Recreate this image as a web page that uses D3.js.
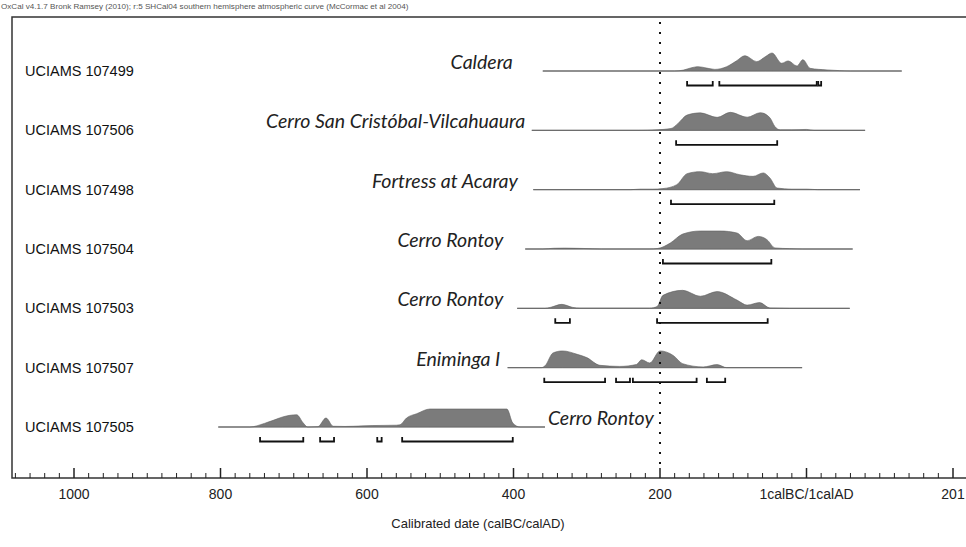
<!DOCTYPE html>
<html>
<head>
<meta charset="utf-8">
<script src="https://cdn.jsdelivr.net/npm/d3@7"></script>
<style>
  html, body { margin: 0; padding: 0; background: #fff; }
  svg { display: block; }
</style>
</head>
<body>
<svg class="chart-svg" width="966" height="547"></svg>
<script>
const width = 966;
const height = 547;

// years: BC negative, AD positive
const samples = ["UCIAMS 107499", "UCIAMS 107506", "UCIAMS 107498", "UCIAMS 107504", "UCIAMS 107503", "UCIAMS 107507", "UCIAMS 107505"];
const sites = ["Caldera", "Cerro San Cristóbal-Vilcahuaura", "Fortress at Acaray", "Cerro Rontoy", "Cerro Rontoy", "Eniminga I", "Cerro Rontoy"];
const siteLabelAt = [-401, -384, -394, -414, -414, -418, -353];
const rangeStart = [-360, -375, -373, -384, -395, -408, -803];
const rangeEnd = [130, 80, 73, 63, 59, -6, -357];

// relative probability, [year, density]
const dist107499 = [[-360, 0], [-180, 0], [-168, 0.05], [-158, 0.17], [-148, 0.24], [-136, 0.16], [-125, 0.09], [-109, 0.24], [-96, 0.55], [-84, 0.85], [-68, 0.52], [-56, 0.8], [-47, 1.0], [-34, 0.43], [-25, 0.56], [-13, 0.28], [-5, 0.63], [5, 0.15], [28, 0.06], [45, 0.02], [60, 0], [130, 0]];
const dist107506 = [[-375, 0], [-230, 0], [-204, 0.03], [-185, 0.1], [-175, 0.4], [-163, 0.85], [-145, 0.97], [-122, 0.72], [-104, 1.0], [-81, 0.73], [-63, 0.98], [-50, 0.7], [-43, 0.2], [-36, 0.03], [-20, 0.03], [0, 0.05], [10, 0], [80, 0]];
const dist107498 = [[-373, 0], [-240, 0], [-227, 0.03], [-210, 0.03], [-196, 0.06], [-177, 0.28], [-163, 0.89], [-145, 1.0], [-128, 0.89], [-109, 1.0], [-91, 0.83], [-73, 0.74], [-59, 0.93], [-50, 0.65], [-40, 0.09], [-20, 0.03], [1, 0.03], [15, 0], [73, 0]];
const dist107504 = [[-384, 0], [-360, 0], [-345, 0.04], [-330, 0.05], [-305, 0.03], [-280, 0], [-215, 0], [-203, 0.03], [-186, 0.33], [-169, 0.83], [-145, 1.0], [-118, 1.0], [-95, 0.89], [-81, 0.46], [-66, 0.7], [-54, 0.52], [-43, 0.06], [-23, 0.02], [-5, 0], [63, 0]];
const dist107503 = [[-395, 0], [-357, 0], [-350, 0.05], [-334, 0.22], [-319, 0.05], [-309, 0.01], [-214, 0.01], [-204, 0.1], [-196, 0.72], [-169, 1.0], [-145, 0.67], [-122, 0.93], [-95, 0.46], [-81, 0.18], [-64, 0.32], [-50, 0.02], [-23, 0], [59, 0]];
const dist107507 = [[-408, 0], [-362, 0], [-357, 0.1], [-346, 0.82], [-333, 0.93], [-313, 0.74], [-300, 0.56], [-282, 0.13], [-255, 0.07], [-232, 0.18], [-225, 0.44], [-214, 0.26], [-200, 0.93], [-182, 0.68], [-169, 0.22], [-141, 0.04], [-122, 0.17], [-109, 0], [-6, 0]];
const dist107505 = [[-803, 0], [-760, 0], [-740, 0.2], [-728, 0.37], [-715, 0.56], [-696, 0.68], [-687, 0.22], [-681, 0], [-667, 0.02], [-656, 0.5], [-646, 0.04], [-630, 0.03], [-619, 0.04], [-592, 0.08], [-560, 0.1], [-555, 0.12], [-546, 0.5], [-532, 0.74], [-514, 1.0], [-409, 1.0], [-401, 0.22], [-391, 0], [-357, 0]];
const distributions = [dist107499, dist107506, dist107498, dist107504, dist107503, dist107507, dist107505];

// 95.4% ranges, [from, to]
const ranges = [
  [[-163, -128], [-119, 14], [16, 20]],
  [[-178, -40]],
  [[-185, -44]],
  [[-196, -48]],
  [[-343, -323], [-204, -53]],
  [[-358, -275], [-260, -241], [-237, -150], [-136, -111]],
  [[-746, -687], [-664, -645], [-586, -580], [-552, -401]]
];

const tickValues = [-1000, -800, -600, -400, -200, 0, 200];
const tickLabels = ["1000", "800", "600", "400", "200", "1calBC/1calAD", "201"];
const markerYear = -200;

const titleText = "OxCal v4.1.7 Bronk Ramsey (2010); r:5 SHCal04 southern hemisphere atmospheric curve (McCormac et al 2004)";

const frame = { left: 12, top: 17, bottom: 478 };

const svg = d3.select(".chart-svg");

const x = d3.scaleLinear().domain([-1000, 200]).range([74, 953]);
const y = d3.scalePoint().domain(samples).range([71, 427]);
const h = d3.scaleLinear().domain([0, 1]).range([0, 18]);

// header
svg.append("text")
  .attr("x", 1)
  .attr("y", 9)
  .attr("font-family", "Liberation Sans, Arial, sans-serif")
  .attr("font-size", 8.1)
  .attr("fill", "#555")
  .text(titleText);

// frame: top, left and the axis line
svg.append("path")
  .attr("d", `M${width},${frame.top}H${frame.left}V${frame.bottom}H${width}`)
  .attr("fill", "none")
  .attr("stroke", "#333")
  .attr("stroke-width", 1.5);

const area = d3.area()
  .x((d) => x(d[0]))
  .y0(0)
  .y1((d) => -h(d[1]))
  .curve(d3.curveMonotoneX);

const rows = svg.selectAll(".row")
  .data(samples)
  .enter()
  .append("g")
  .attr("class", "row")
  .attr("transform", (d) => `translate(0,${y(d)})`);

rows.append("text")
  .attr("x", 25)
  .attr("y", 5)
  .attr("font-family", "Liberation Sans, Arial, sans-serif")
  .attr("font-size", 14.5)
  .attr("fill", "#111")
  .text((d) => d);

rows.append("line")
  .attr("x1", (d, i) => x(rangeStart[i]))
  .attr("x2", (d, i) => x(rangeEnd[i]))
  .attr("stroke", "#8a8a8a")
  .attr("stroke-width", 1);

rows.append("path")
  .attr("d", (d, i) => area(distributions[i]))
  .attr("fill", "#7b7b7b")
  .attr("stroke", "#5e5e5e")
  .attr("stroke-width", 0.6);

rows.append("text")
  .attr("x", (d, i) => x(siteLabelAt[i]))
  .attr("y", -2)
  .attr("text-anchor", (d, i) => (i === samples.length - 1 ? "start" : "end"))
  .attr("font-family", "Lato, Open Sans, sans-serif")
  .attr("font-style", "italic")
  .attr("font-size", 19.5)
  .attr("fill", "#222")
  .text((d, i) => sites[i]);

rows.selectAll(".range")
  .data((d, i) => ranges[i])
  .enter()
  .append("path")
  .attr("class", "range")
  .attr("d", (r) => `M${x(r[0])},10V14.5H${x(r[1])}V10`)
  .attr("fill", "none")
  .attr("stroke", "#111")
  .attr("stroke-width", 1.8);

// dotted marker at 200 BC
svg.append("line")
  .attr("x1", x(markerYear))
  .attr("x2", x(markerYear))
  .attr("y1", 22)
  .attr("y2", frame.bottom - 12)
  .attr("stroke", "#111")
  .attr("stroke-width", 2)
  .attr("stroke-dasharray", "2,8");

// axis ticks
const minorTicks = d3.range(-1080, 281, 20);
svg.append("g")
  .selectAll("line")
  .data(minorTicks)
  .enter()
  .append("line")
  .attr("x1", (d) => x(d))
  .attr("x2", (d) => x(d))
  .attr("y1", frame.bottom)
  .attr("y2", (d) => (tickValues.includes(d) ? frame.bottom - 10 : frame.bottom - 5))
  .attr("stroke", "#222")
  .attr("stroke-width", (d) => (tickValues.includes(d) ? 1.5 : 1));

svg.append("g")
  .selectAll("text")
  .data(tickValues)
  .enter()
  .append("text")
  .attr("x", (d) => x(d))
  .attr("y", 499)
  .attr("text-anchor", "middle")
  .attr("font-family", "Liberation Sans, Arial, sans-serif")
  .attr("font-size", 14)
  .attr("fill", "#222")
  .text((d, i) => tickLabels[i]);

svg.append("text")
  .attr("x", 478)
  .attr("y", 528)
  .attr("text-anchor", "middle")
  .attr("font-family", "Liberation Sans, Arial, sans-serif")
  .attr("font-size", 13)
  .attr("fill", "#222")
  .text("Calibrated date (calBC/calAD)");
</script>
</body>
</html>
